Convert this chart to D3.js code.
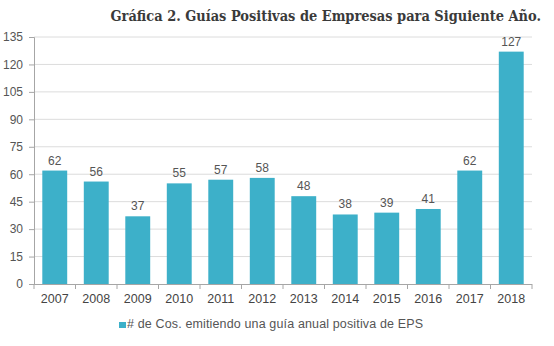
<!DOCTYPE html>
<meta charset="utf-8">
<style>
body{margin:0;background:#fff;}
svg{display:block}
text{font-family:"Liberation Sans",Arial,sans-serif;}
</style>
<svg id="chart" width="554" height="346"></svg>
<script src="https://d3js.org/d3.v7.min.js"></script>
<script>
// years and number of companies issuing positive annual EPS guidance
const years = ['2007','2008','2009','2010','2011','2012','2013','2014','2015','2016','2017','2018']
const counts = [62, 56, 37, 55, 57, 58, 48, 38, 39, 41, 62, 127]
const yTicks = [0, 15, 30, 45, 60, 75, 90, 105, 120, 135]
const titleText = 'Gráfica 2. Guías Positivas de Empresas para Siguiente Año.'
const legendText = '# de Cos. emitiendo una guía anual positiva de EPS'

const svg = d3.select('#chart')
const plotLeft = 34, plotRight = 532, plotTop = 37, plotBottom = 284
const barColor = '#3db0c9'

const x = d3.scaleBand().domain(years).range([plotLeft, plotRight]).paddingInner(0.4).paddingOuter(0.2)
const y = d3.scaleLinear().domain([0, 135]).range([plotBottom, plotTop])

// title, squeezed horizontally to a 431px run ending at x=541
const titleG = svg.append('g')
const title = titleG.append('text')
  .attr('x', 0).attr('y', 0)
  .attr('text-anchor', 'end')
  .style('font-family', '"DejaVu Serif", serif')
  .style('font-weight', 'bold')
  .style('font-size', '15px')
  .style('fill', '#3a3a3a')
  .text(titleText)
const titleW = title.node().getComputedTextLength()
titleG.attr('transform', `translate(541,21) scale(${431 / titleW},1)`)

// gridlines
svg.append('g').selectAll('line').data(yTicks.filter(d => d > 0)).join('line')
  .attr('x1', plotLeft).attr('x2', plotRight)
  .attr('y1', d => y(d)).attr('y2', d => y(d))
  .attr('stroke', '#dcdcdc').attr('stroke-width', 1)

// y axis
const yAxis = svg.append('g').attr('transform', `translate(${plotLeft},0)`)
  .call(d3.axisLeft(y).tickValues(yTicks).tickSize(5).tickPadding(6))
yAxis.select('.domain').attr('stroke', '#a6a6a6')
yAxis.selectAll('.tick line').attr('stroke', '#a6a6a6')
yAxis.selectAll('text').style('font-size', '12px').style('fill', '#555')
  .style('font-family', '"Liberation Sans",Arial,sans-serif')

// bars
svg.append('g').selectAll('rect').data(counts).join('rect')
  .attr('x', (d, i) => x(years[i]))
  .attr('width', x.bandwidth())
  .attr('y', d => y(d))
  .attr('height', d => y(0) - y(d))
  .attr('fill', barColor)

// value labels
svg.append('g').selectAll('text').data(counts).join('text')
  .attr('x', (d, i) => x(years[i]) + x.bandwidth() / 2)
  .attr('y', d => y(d) - 6)
  .attr('text-anchor', 'middle')
  .style('font-size', '12px').style('fill', '#555')
  .text(d => d)

// x axis line and category separators
const step = (plotRight - plotLeft) / years.length
svg.append('line')
  .attr('x1', plotLeft).attr('x2', plotRight)
  .attr('y1', plotBottom + 0.5).attr('y2', plotBottom + 0.5)
  .attr('stroke', '#a6a6a6')
svg.append('g').selectAll('line').data(d3.range(years.length + 1)).join('line')
  .attr('x1', i => plotLeft + i * step).attr('x2', i => plotLeft + i * step)
  .attr('y1', plotBottom).attr('y2', plotBottom + 5)
  .attr('stroke', '#a6a6a6')

// year labels
svg.append('g').selectAll('text').data(years).join('text')
  .attr('x', d => x(d) + x.bandwidth() / 2)
  .attr('y', plotBottom + 19)
  .attr('text-anchor', 'middle')
  .style('font-size', '12.5px').style('fill', '#444')
  .text(d => d)

// legend
const legend = svg.append('g').attr('transform', 'translate(119,328)')
legend.append('rect').attr('x', 0).attr('y', -6).attr('width', 7).attr('height', 6).attr('fill', barColor)
legend.append('text').attr('x', 8).attr('y', 0)
  .style('font-size', '12.5px').style('fill', '#555')
  .attr('textLength', 296)
  .text(legendText)
</script>
